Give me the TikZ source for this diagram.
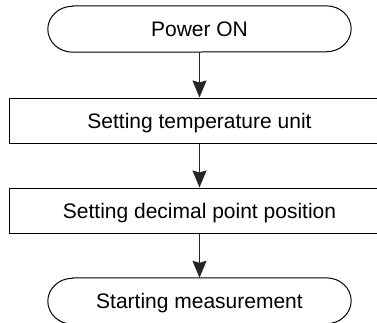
\documentclass[tikz,border=0pt]{standalone}
\usepackage{fontspec}
\setmainfont{Liberation Sans}
\usetikzlibrary{arrows.meta}
\tikzset{
  txt/.style={font=\fontsize{21}{25}\selectfont, text height=15.3pt, text depth=0pt, inner sep=0pt},
  termnode/.style={txt, minimum width=303pt, minimum height=46pt},
  boxnode/.style={txt, draw, line width=1pt, minimum width=380pt, minimum height=45pt},
  flow/.style={line width=1.2pt, draw=black!85, -{Stealth[length=17pt, width=14pt, inset=2pt]}},
  termline/.style={line width=1pt}
}
\newcommand{\termshape}[1]{%
  \draw[termline] ([xshift=25pt]#1.north west) -- ([xshift=-25pt]#1.north east)
    arc[start angle=90, end angle=-90, x radius=25pt, y radius=23pt]
    -- ([xshift=25pt]#1.south west)
    arc[start angle=270, end angle=90, x radius=25pt, y radius=23pt] -- cycle;}
\begin{document}
\begin{tikzpicture}[x=1pt, y=-1pt]
\useasboundingbox (0,0) rectangle (377,322);
\clip (0,0) rectangle (377,322);
\node[termnode] (t1) at (199.5,29) {Power ON};
\termshape{t1}
\node[boxnode] (b1) at (199.5,120.5) {Setting temperature unit};
\node[boxnode] (b2) at (199.5,210.5) {Setting decimal point position};
\node[termnode] (t2) at (199.5,301) {Starting measurement};
\termshape{t2}
\draw[flow] (t1.south) -- (b1.north);
\draw[flow] (b1.south) -- (b2.north);
\draw[flow] (b2.south) -- (t2.north);
\end{tikzpicture}
\end{document}
